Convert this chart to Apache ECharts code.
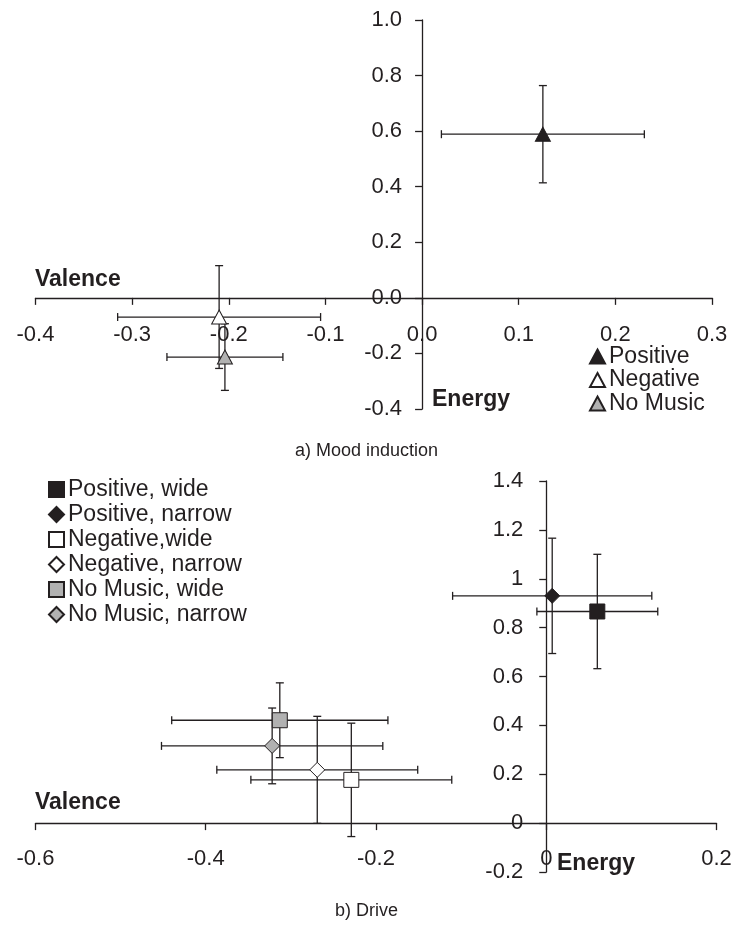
<!DOCTYPE html>
<html>
<head>
<meta charset="utf-8">
<script src="https://cdn.jsdelivr.net/npm/echarts@6/dist/echarts.min.js"></script>
<style>html,body{margin:0;padding:0;background:#fff}#c{width:733px;height:925px}</style>
</head>
<body>
<div id="c"></div>
<script>
// ---- Chart a) Mood induction ----
const topNames = ['Positive', 'Negative', 'No Music'];
const topX = [0.125, -0.210, -0.204];
const topY = [0.589, -0.069, -0.213];
const topXErr = [0.105, 0.105, 0.060];
const topYErr = [0.175, 0.185, 0.120];
const topXTicks = [-0.4, 0.3, 0.1];   // min, max, interval
const topYTicks = [-0.4, 1.0, 0.2];

// ---- Chart b) Drive ----
const botNames = ['Positive, wide', 'Positive, narrow', 'Negative,wide', 'Negative, narrow', 'No Music, wide', 'No Music, narrow'];
const botX = [0.060, 0.007, -0.229, -0.269, -0.313, -0.322];
const botY = [0.866, 0.930, 0.177, 0.218, 0.421, 0.316];
const botXErr = [0.071, 0.117, 0.118, 0.118, 0.127, 0.130];
const botYErr = [0.234, 0.236, 0.232, 0.219, 0.153, 0.155];
const botXTicks = [-0.6, 0.2, 0.2];
const botYTicks = [-0.2, 1.4, 0.2];

const INK = '#231f20';
const FONT = 'Liberation Sans, Arial, sans-serif';
const GREY = '#b1b1b1';

const topStyles = [
  {symbol: 'triangle', color: INK},
  {symbol: 'triangle', color: '#ffffff'},
  {symbol: 'triangle', color: GREY}
];
const botStyles = [
  {symbol: 'rect', color: INK},
  {symbol: 'diamond', color: INK},
  {symbol: 'rect', color: '#ffffff'},
  {symbol: 'diamond', color: '#ffffff'},
  {symbol: 'rect', color: GREY},
  {symbol: 'diamond', color: GREY}
];

const grids = [
  {left: 35.5, width: 676.5, top: 20, height: 389},
  {left: 35.5, width: 681, top: 481, height: 391}
];

function errRender(params, api) {
  const x = api.value(0), y = api.value(1), ex = api.value(2), ey = api.value(3);
  const l = api.coord([x - ex, y]), r = api.coord([x + ex, y]);
  const t = api.coord([x, y + ey]), b = api.coord([x, y - ey]);
  const cap = 4;
  const st = {stroke: INK, lineWidth: 1.3, fill: null};
  const ln = (x1, y1, x2, y2) => ({type: 'line', shape: {x1, y1, x2, y2}, style: st});
  return {type: 'group', children: [
    ln(l[0], l[1], r[0], r[1]),
    ln(t[0], t[1], b[0], b[1]),
    ln(l[0], l[1] - cap, l[0], l[1] + cap),
    ln(r[0], r[1] - cap, r[0], r[1] + cap),
    ln(t[0] - cap, t[1], t[0] + cap, t[1]),
    ln(b[0] - cap, b[1], b[0] + cap, b[1])
  ]};
}

// offset (pixels) that places an axis at the zero of the crossing axis
function zeroOffset(ticks, size) {
  return -size * (0 - ticks[0]) / (ticks[1] - ticks[0]);
}

function valueAxis(ticks, gridIndex, position, offset, fmt, margin) {
  return {
    type: 'value', gridIndex, position, offset,
    min: ticks[0], max: ticks[1], interval: ticks[2],
    axisLine: {show: true, onZero: false, lineStyle: {color: INK, width: 1.3}},
    axisTick: {show: true, length: 7, lineStyle: {color: INK, width: 1.3}},
    splitLine: {show: false},
    axisLabel: {
      color: INK, fontFamily: FONT, fontSize: 22, margin,
      showMinLabel: true, showMaxLabel: true, hideOverlap: false,
      formatter: fmt
    }
  };
}

const series = [];
series.push({
  type: 'custom', name: 'errA', xAxisIndex: 0, yAxisIndex: 0, z: 1,
  renderItem: errRender, silent: true, clip: false,
  data: topX.map((v, i) => [v, topY[i], topXErr[i], topYErr[i]])
});
topNames.forEach((n, i) => series.push({
  type: 'scatter', name: n, xAxisIndex: 0, yAxisIndex: 0, z: 3,
  symbol: topStyles[i].symbol, symbolSize: [15, 14],
  itemStyle: {color: topStyles[i].color, borderColor: INK, borderWidth: 1, opacity: 1},
  emphasis: {disabled: true},
  data: [[topX[i], topY[i]]]
}));
series.push({
  type: 'custom', name: 'errB', xAxisIndex: 1, yAxisIndex: 1, z: 1,
  renderItem: errRender, silent: true, clip: false,
  data: botX.map((v, i) => [v, botY[i], botXErr[i], botYErr[i]])
});
botNames.forEach((n, i) => series.push({
  type: 'scatter', name: n, xAxisIndex: 1, yAxisIndex: 1, z: 3,
  symbol: botStyles[i].symbol, symbolSize: 15,
  itemStyle: {color: botStyles[i].color, borderColor: INK, borderWidth: 1, opacity: 1},
  emphasis: {disabled: true},
  data: [[botX[i], botY[i]]]
}));

const option = {
  animation: false,
  backgroundColor: '#fff',
  grid: grids.map(g => Object.assign({outerBoundsMode: 'none', containLabel: false}, g)),
  xAxis: [
    valueAxis(topXTicks, 0, 'bottom', zeroOffset(topYTicks, grids[0].height), v => v.toFixed(1), 26),
    valueAxis(botXTicks, 1, 'bottom', zeroOffset(botYTicks, grids[1].height), null, 25)
  ],
  yAxis: [
    valueAxis(topYTicks, 0, 'left', zeroOffset(topXTicks, grids[0].width), v => v.toFixed(1), 20),
    valueAxis(botYTicks, 1, 'left', zeroOffset(botXTicks, grids[1].width), null, 23)
  ],
  legend: [
    {
      data: topNames, orient: 'vertical', left: 589, top: 345, padding: 0,
      itemWidth: 15, itemHeight: 14, itemGap: 0.5,
      textStyle: {color: INK, fontFamily: FONT, fontSize: 23, lineHeight: 23, padding: [0, 0, 0, -1]},
      selectedMode: false
    },
    {
      data: botNames, orient: 'vertical', left: 48, top: 478, padding: 0,
      itemWidth: 15, itemHeight: 15, itemGap: 2,
      textStyle: {color: INK, fontFamily: FONT, fontSize: 23, lineHeight: 23, padding: [0, 0, 0, -1]},
      selectedMode: false
    }
  ],
  graphic: [
    {type: 'text', left: 35, top: 268, style: {text: 'Valence', fill: INK, font: 'bold 23px ' + FONT}},
    {type: 'text', left: 432, top: 388, style: {text: 'Energy', fill: INK, font: 'bold 23px ' + FONT}},
    {type: 'text', left: 35, top: 791, style: {text: 'Valence', fill: INK, font: 'bold 23px ' + FONT}},
    {type: 'text', left: 557, top: 852, style: {text: 'Energy', fill: INK, font: 'bold 23px ' + FONT}},
    {type: 'text', left: 'center', top: 442, style: {text: 'a) Mood induction', fill: INK, font: '18px ' + FONT}},
    {type: 'text', left: 'center', top: 902, style: {text: 'b) Drive', fill: INK, font: '18px ' + FONT}}
  ],
  series
};

const chart = echarts.init(document.getElementById('c'), null, {renderer: 'canvas'});
chart.setOption(option);
</script>
</body>
</html>
